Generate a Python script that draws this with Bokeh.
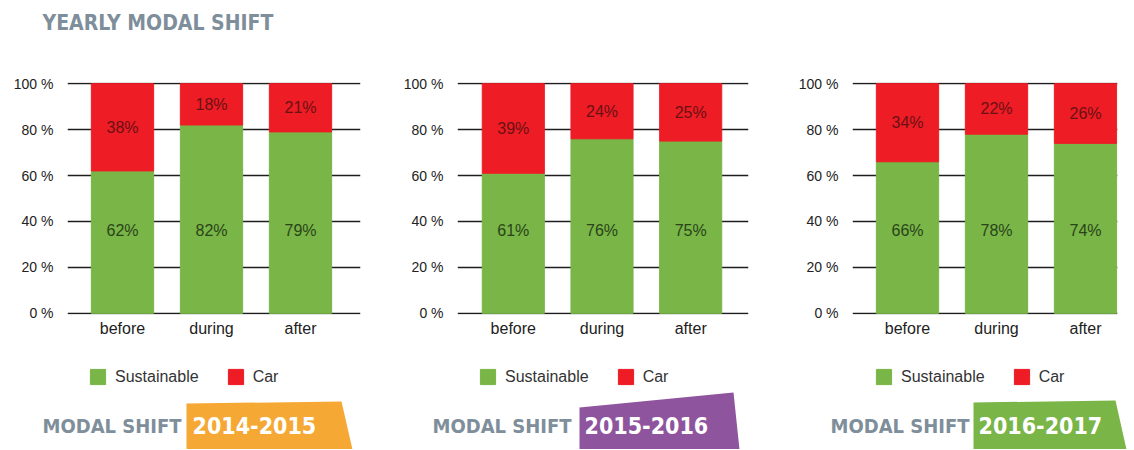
from bokeh.plotting import figure
from bokeh.layouts import row, column
from bokeh.models import (ColumnDataSource, Range1d, FixedTicker, Legend,
                          LegendItem, Label)
from bokeh.core.properties import value
from bokeh.embed import file_html
from bokeh.resources import INLINE

# ---------------- data ----------------
categories = ["before", "during", "after"]
series_names = ["Sustainable", "Car"]
periods = ["2014-2015", "2015-2016", "2016-2017"]

sustainable_2014_2015 = [62, 82, 79]
car_2014_2015 = [38, 18, 21]
sustainable_2015_2016 = [61, 76, 75]
car_2015_2016 = [39, 24, 25]
sustainable_2016_2017 = [66, 78, 74]
car_2016_2017 = [34, 22, 26]

y_ticks = [0, 20, 40, 60, 80, 100]
y_tick_labels = ["0 %", "20 %", "40 %", "60 %", "80 %", "100 %"]

main_title = "YEARLY MODAL SHIFT"
banner_prefix = "MODAL SHIFT"

# ---------------- style ----------------
GREEN = "#79b547"
RED = "#ee1c25"
GREY_TITLE = "#7e8e9a"
BANNER_COLORS = ["#f6a834", "#8e549e", "#7ab547"]
TEXT = "#222222"
SANS = "Liberation Sans"
COND = "DejaVu Sans Condensed"

TOTAL_W = 1132
TOP_H = 40              # title strip
CHART_H = 312           # chart row
BOTTOM_H = 97           # legend + banner strip
FRAME_TOP = 83          # page px where 100 % sits
FRAME_BOTTOM = 313      # page px where 0 % sits
PX_PER_PCT = (FRAME_BOTTOM - FRAME_TOP) / 100.0
Y_PAD = 0.5             # keep 0 % and 100 % grid lines inside the frame
SPACING = 89.0          # px per category
BAR_W = 0.70
GREEN_LABEL_LEVEL = 36  # vertical position of labels inside green bars

panels = [
    dict(sust=sustainable_2014_2015, car=car_2014_2015, period=periods[0],
         fig_left=0, fig_right=400, frame_left=67, frame_right=360, first_center=122,
         banner=[(186, 403), (341, 401), (352, 449), (186, 449)],
         modal_x=42, year_x=192, legend_x=88),
    dict(sust=sustainable_2015_2016, car=car_2015_2016, period=periods[1],
         fig_left=400, fig_right=790, frame_left=456, frame_right=748, first_center=512,
         banner=[(579, 407), (733, 392), (739, 449), (579, 449)],
         modal_x=432, year_x=584, legend_x=478),
    dict(sust=sustainable_2016_2017, car=car_2016_2017, period=periods[2],
         fig_left=790, fig_right=TOTAL_W, frame_left=852, frame_right=1117, first_center=907,
         banner=[(973, 402), (1115, 400), (1126, 449), (973, 449)],
         modal_x=830, year_x=978, legend_x=874),
]


def make_chart(cfg):
    fl, fr = cfg["frame_left"], cfg["frame_right"]
    x_start = 0.5 - (cfg["first_center"] - fl) / SPACING
    x_end = x_start + (fr - fl) / SPACING

    width = cfg["fig_right"] - cfg["fig_left"]
    frame_h = int(round((100 + 2 * Y_PAD) * PX_PER_PCT))
    top_border = int(round(FRAME_TOP - Y_PAD * PX_PER_PCT)) - TOP_H
    p = figure(width=width, height=CHART_H, output_backend="svg", toolbar_location=None,
               x_range=Range1d(x_start, x_end), y_range=Range1d(-Y_PAD, 100 + Y_PAD))
    p.min_border_left = fl - cfg["fig_left"]
    p.min_border_right = width - (fl - cfg["fig_left"]) - (fr - fl)
    p.min_border_top = top_border
    p.min_border_bottom = CHART_H - top_border - frame_h
    p.outline_line_color = None
    p.background_fill_color = "white"
    p.border_fill_color = "white"

    xs = [i + 0.5 for i in range(len(categories))]
    src = ColumnDataSource(dict(x=xs, sust=cfg["sust"], car=cfg["car"]))
    p.vbar_stack(["sust", "car"], x="x", width=BAR_W, color=[GREEN, RED], source=src)

    lab_src = ColumnDataSource(dict(
        x=xs,
        gy=[GREEN_LABEL_LEVEL] * len(xs),
        gt=[f"{v}%" for v in cfg["sust"]],
        ry=[s + c / 2 for s, c in zip(cfg["sust"], cfg["car"])],
        rt=[f"{v}%" for v in cfg["car"]],
    ))
    p.text(x="x", y="gy", text="gt", source=lab_src, text_align="center",
           text_baseline="middle", text_font=value(SANS), text_font_size="16px",
           text_color="#2a4419")
    p.text(x="x", y="ry", text="rt", source=lab_src, text_align="center",
           text_baseline="middle", text_font=value(SANS), text_font_size="16px",
           text_color="#6a1114")

    p.xaxis.ticker = FixedTicker(ticks=xs)
    p.xaxis.major_label_overrides = {x: c for x, c in zip(xs, categories)}
    p.xaxis.axis_line_color = None
    p.xaxis.major_tick_line_color = None
    p.xaxis.major_tick_in = 0
    p.xaxis.major_tick_out = 0
    p.xaxis.minor_tick_line_color = None
    p.xaxis.major_label_standoff = 5
    p.xaxis.major_label_text_font = SANS
    p.xaxis.major_label_text_font_size = "16px"
    p.xaxis.major_label_text_color = TEXT

    yt = FixedTicker(ticks=y_ticks)
    p.yaxis.ticker = yt
    p.yaxis.major_label_overrides = {t: l for t, l in zip(y_ticks, y_tick_labels)}
    p.yaxis.axis_line_color = None
    p.yaxis.major_tick_line_color = None
    p.yaxis.major_tick_in = 0
    p.yaxis.major_tick_out = 0
    p.yaxis.minor_tick_line_color = None
    p.yaxis.major_label_standoff = 14
    p.yaxis.major_label_text_font = SANS
    p.yaxis.major_label_text_font_size = "14px"
    p.yaxis.major_label_text_color = TEXT

    p.xgrid.visible = False
    p.ygrid.ticker = yt
    p.ygrid.grid_line_color = "#1e1e1e"
    p.ygrid.grid_line_width = 1.5
    return p


def strip(height, y0):
    """A full-width strip whose data coordinates equal page pixels."""
    s = figure(width=TOTAL_W, height=height, output_backend="svg", toolbar_location=None,
               x_range=Range1d(0, TOTAL_W), y_range=Range1d(y0 + height, y0),
               x_axis_location=None, y_axis_location=None, min_border=0)
    s.min_border_left = s.min_border_right = s.min_border_top = s.min_border_bottom = 0
    s.grid.visible = False
    s.outline_line_color = None
    s.background_fill_color = "white"
    s.border_fill_color = "white"
    return s


# ---- title strip ----
top = strip(TOP_H, 0)
top.add_layout(Label(x=42, y=22, text=main_title, text_font=COND,
                     text_font_style="bold", text_font_size="21px",
                     text_color=GREY_TITLE, text_align="left",
                     text_baseline="middle"))

# ---- charts ----
charts = [make_chart(c) for c in panels]

# ---- legend + banner strip ----
bottom_y0 = TOP_H + CHART_H
bottom = strip(BOTTOM_H, bottom_y0)
# hidden legend keys (legend swatches need a renderer with data)
key_src = ColumnDataSource(dict(x=[0.5], sust=sustainable_2014_2015[:1],
                                car=car_2014_2015[:1]))
key_green = bottom.vbar(x="x", top="sust", width=1, color=GREEN, source=key_src,
                        visible=False)
key_red = bottom.vbar(x="x", top="car", width=1, color=RED, source=key_src,
                      visible=False)

for i, cfg in enumerate(panels):
    bottom.patch([a for a, b in cfg["banner"]], [b for a, b in cfg["banner"]],
                 fill_color=BANNER_COLORS[i], line_color=None)
    bottom.add_layout(Label(x=cfg["modal_x"], y=425, text=banner_prefix,
                            text_font=COND, text_font_style="bold",
                            text_font_size="20px", text_color=GREY_TITLE,
                            text_align="left", text_baseline="middle"))
    bottom.add_layout(Label(x=cfg["year_x"], y=425, text=cfg["period"],
                            text_font=COND, text_font_style="bold",
                            text_font_size="23px", text_color="white",
                            text_align="left", text_baseline="middle"))
    legend = Legend(
        items=[LegendItem(label=series_names[0], renderers=[key_green]),
               LegendItem(label=series_names[1], renderers=[key_red])],
        location=(cfg["legend_x"], bottom_y0 + BOTTOM_H - 386),
        orientation="horizontal", glyph_width=19, glyph_height=19,
        label_height=19, label_standoff=8, spacing=27, padding=0, margin=0,
        border_line_color=None, background_fill_alpha=0,
        inactive_fill_alpha=0,
        label_text_font=SANS, label_text_font_size="16px",
        label_text_color="#333333")
    bottom.add_layout(legend)

layout = column(top, row(*charts), bottom)
open("out.html", "w").write(file_html(layout, INLINE))
